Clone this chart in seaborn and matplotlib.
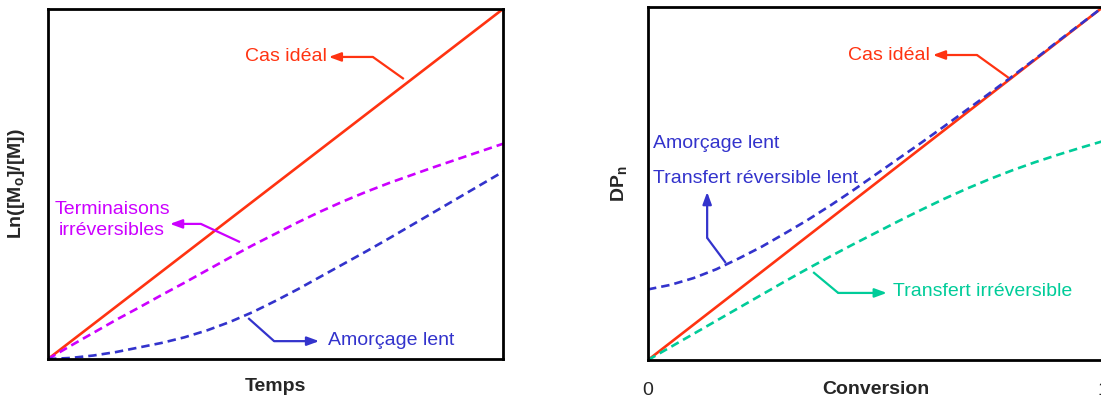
import numpy as np
import pandas as pd
import matplotlib
matplotlib.use("Agg")
import matplotlib.pyplot as plt
import seaborn as sns

# ---- data -------------------------------------------------------------
x_frac = [0.00, 0.05, 0.10, 0.15, 0.20, 0.25, 0.30, 0.35, 0.40, 0.45, 0.50,
          0.55, 0.60, 0.65, 0.70, 0.75, 0.80, 0.85, 0.90, 0.95, 1.00]

# left panel: Ln([M0]/[M]) versus time
temps_ideal = [0.00, 0.05, 0.10, 0.15, 0.20, 0.25, 0.30, 0.35, 0.40, 0.45, 0.50,
               0.55, 0.60, 0.65, 0.70, 0.75, 0.80, 0.85, 0.90, 0.95, 1.00]
temps_terminaisons = [0.000, 0.038, 0.075, 0.112, 0.147, 0.183, 0.218, 0.254, 0.290,
                      0.325, 0.358, 0.391, 0.422, 0.451, 0.478, 0.503, 0.526, 0.549,
                      0.571, 0.593, 0.615]
temps_amorcage = [0.000, 0.003, 0.010, 0.020, 0.033, 0.046, 0.062, 0.082, 0.106, 0.134,
                  0.166, 0.200, 0.236, 0.272, 0.308, 0.345, 0.383, 0.421, 0.459, 0.497,
                  0.535]

# right panel: DPn versus conversion
conv_ideal = [0.00, 0.05, 0.10, 0.15, 0.20, 0.25, 0.30, 0.35, 0.40, 0.45, 0.50,
              0.55, 0.60, 0.65, 0.70, 0.75, 0.80, 0.85, 0.90, 0.95, 1.00]
conv_amorcage = [0.200, 0.213, 0.232, 0.257, 0.288, 0.321, 0.358, 0.396, 0.437, 0.480,
                 0.525, 0.570, 0.615, 0.661, 0.708, 0.755, 0.803, 0.852, 0.902, 0.951,
                 1.000]
conv_transfert_irr = [0.000, 0.037, 0.074, 0.111, 0.148, 0.185, 0.222, 0.258, 0.293,
                      0.327, 0.360, 0.393, 0.425, 0.456, 0.485, 0.512, 0.537, 0.560,
                      0.581, 0.601, 0.620]

conv_ticks = [0, 1]
conv_tick_labels = ["0", "1"]

# ---- style ------------------------------------------------------------
sns.set_theme(style="white")
plt.rcParams["font.family"] = ["Liberation Sans", "DejaVu Sans"]
plt.rcParams["mathtext.fontset"] = "custom"
plt.rcParams["mathtext.rm"] = "Liberation Sans"
plt.rcParams["mathtext.bf"] = "Liberation Sans:bold"

RED = "#ff3311"
MAGENTA = "#cc00ff"
BLUE = "#3333cc"
GREEN = "#00cc99"
LW = 1.9
DASH = (3.2, 1.9)
FS = 14

fig = plt.figure(figsize=(11.01, 4.0), dpi=100)
ax1 = fig.add_axes([48 / 1101, 41 / 400, 455 / 1101, 350 / 400])
ax2 = fig.add_axes([648 / 1101, 40 / 400, 455 / 1101, 353 / 400])


def draw(ax, x, series):
    for y, color, dashed in series:
        df = pd.DataFrame({"x": x, "y": y})
        sns.lineplot(data=df, x="x", y="y", ax=ax, color=color, lw=LW)
        if dashed:
            ax.lines[-1].set_dashes(DASH)
    ax.set_xlim(0, 1)
    ax.set_ylim(0, 1)
    for sp in ax.spines.values():
        sp.set_visible(True)
        sp.set_color("black")
        sp.set_linewidth(2.0)


def arrow(ax, pts, color):
    # bent leader: straight segments, arrowhead on the last one
    xs = [p[0] for p in pts[:-1]]
    ys = [p[1] for p in pts[:-1]]
    ax.plot(xs, ys, color=color, lw=1.6, transform=ax.transAxes, solid_capstyle="butt")
    ax.annotate("", xy=pts[-1], xytext=pts[-2], xycoords="axes fraction",
                textcoords="axes fraction",
                arrowprops=dict(arrowstyle="-|>,head_length=0.6,head_width=0.22",
                                color=color, lw=1.6, shrinkA=0, shrinkB=0))


# left panel
draw(ax1, x_frac, [(temps_ideal, RED, False),
                   (temps_terminaisons, MAGENTA, True),
                   (temps_amorcage, BLUE, True)])
ax1.set_xticks([])
ax1.set_yticks([])
ax1.set_xlabel("Temps", fontsize=FS, fontweight="bold")
ax1.xaxis.set_label_coords(0.5, -0.055)
ax1.set_ylabel(r"Ln([M$_\mathbf{o}$]/[M])", fontsize=FS, fontweight="bold")
ax1.yaxis.set_label_coords(-0.046, 0.5)

ax1.text(0.612, 0.863, "Cas idéal", color=RED, fontsize=FS, ha="right", va="center",
         transform=ax1.transAxes)
arrow(ax1, [(0.782, 0.80), (0.714, 0.863), (0.617, 0.863)], RED)

ax1.text(0.141, 0.397, "Terminaisons\nirréversibles", color=MAGENTA, fontsize=FS,
         ha="center", va="center", linespacing=1.3, transform=ax1.transAxes)
arrow(ax1, [(0.422, 0.334), (0.336, 0.386), (0.268, 0.386)], MAGENTA)

ax1.text(0.616, 0.054, "Amorçage lent", color=BLUE, fontsize=FS, ha="left", va="center",
         transform=ax1.transAxes)
arrow(ax1, [(0.44, 0.117), (0.497, 0.051), (0.596, 0.051)], BLUE)

# right panel
draw(ax2, x_frac, [(conv_ideal, RED, False),
                   (conv_amorcage, BLUE, True),
                   (conv_transfert_irr, GREEN, True)])
ax2.set_xticks(conv_ticks)
ax2.set_xticklabels(conv_tick_labels, fontsize=FS)
ax2.tick_params(axis="x", length=0, pad=16)
ax2.set_yticks([])
ax2.set_xlabel("Conversion", fontsize=FS, fontweight="bold")
ax2.xaxis.set_label_coords(0.5, -0.06)
ax2.set_ylabel(r"DP$_\mathbf{n}$", fontsize=FS, fontweight="bold")
ax2.yaxis.set_label_coords(-0.04, 0.5)

ax2.text(0.620, 0.864, "Cas idéal", color=RED, fontsize=FS, ha="right", va="center",
         transform=ax2.transAxes)
arrow(ax2, [(0.793, 0.799), (0.723, 0.864), (0.626, 0.864)], RED)

ax2.text(0.011, 0.612, "Amorçage lent", color=BLUE, fontsize=FS, ha="left", va="center",
         transform=ax2.transAxes)
ax2.text(0.011, 0.513, "Transfert réversible lent", color=BLUE, fontsize=FS, ha="left",
         va="center", transform=ax2.transAxes)
arrow(ax2, [(0.171, 0.275), (0.130, 0.346), (0.130, 0.476)], BLUE)

ax2.text(0.538, 0.193, "Transfert irréversible", color=GREEN, fontsize=FS, ha="left",
         va="center", transform=ax2.transAxes)
arrow(ax2, [(0.363, 0.249), (0.418, 0.19), (0.525, 0.19)], GREEN)

fig.savefig("out.png", dpi=100)
